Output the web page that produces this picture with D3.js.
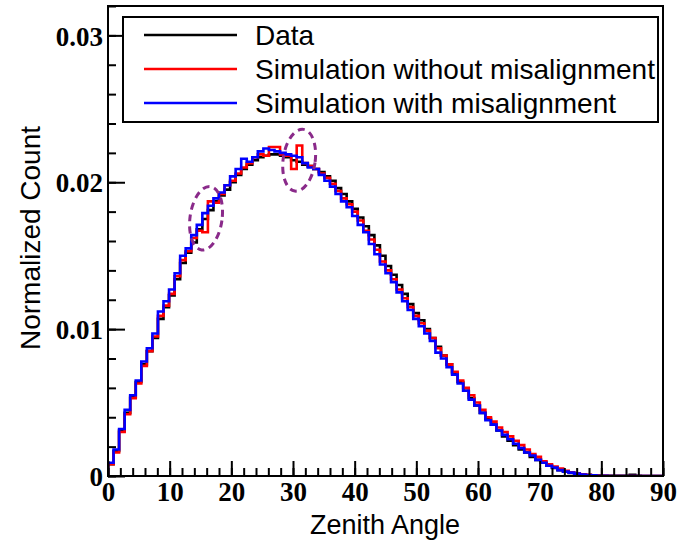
<!DOCTYPE html>
<html>
<head>
<meta charset="utf-8">
<script src="https://cdn.jsdelivr.net/npm/d3@7"></script>
<style>
  body { margin: 0; background: #fff; }
  svg { display: block; }
</style>
</head>
<body>
<div id="chart-area"></div>
<script>
// Histogram: 100 bins of 0.9 degree between 0 and 90.
var binWidth = 0.9;

var dataCounts = [0.0008,0.0017,0.0031,0.0043,0.0054,0.0064,0.0076,0.0085,0.0094,0.0107,
  0.0115,0.0123,0.0134,0.0145,0.0152,0.0159,0.0168,0.0175,0.0181,0.0187,
  0.0191,0.0195,0.0200,0.0205,0.0209,0.0212,0.0215,0.0217,0.0218,0.0219,
  0.0219,0.0218,0.0217,0.0215,0.0214,0.0212,0.0211,0.0209,0.0207,0.0204,
  0.0201,0.0196,0.0192,0.0187,0.0182,0.0176,0.0170,0.0164,0.0157,0.0150,
  0.0143,0.0137,0.0130,0.0124,0.0117,0.0111,0.0106,0.0100,0.0094,0.0088,
  0.0082,0.0076,0.0070,0.0064,0.0058,0.0053,0.0048,0.0043,0.0039,0.0035,
  0.0031,0.0027,0.0024,0.0021,0.0018,0.0016,0.0013,0.0011,0.0009,0.0007,
  0.00055,0.0004,0.0003,0.0002,0.00015,0.0001,0.00007,0.00005,0.00003,0.00002,
  0.00001,0.00001,0.00001,0.00001,0.00008,0.00001,0,0,0,0];

var simNoMisalign = [0.0008,0.0016,0.0030,0.0042,0.0053,0.0063,0.0075,0.0085,0.0095,0.0109,
  0.0116,0.0124,0.0136,0.0147,0.0153,0.0162,0.0167,0.0166,0.0187,0.0186,
  0.0192,0.0198,0.0201,0.0206,0.0210,0.0213,0.0217,0.0219,0.0218,0.0224,
  0.0224,0.0219,0.0218,0.0209,0.0225,0.0213,0.0211,0.0209,0.0206,0.0203,
  0.0199,0.0194,0.0189,0.0185,0.0180,0.0174,0.0167,0.0161,0.0154,0.0146,
  0.0140,0.0134,0.0127,0.0121,0.0115,0.0109,0.0104,0.0099,0.0094,0.0087,
  0.0082,0.0076,0.0071,0.0065,0.0060,0.0055,0.0050,0.0045,0.0040,0.0037,
  0.0033,0.0030,0.0027,0.0024,0.0021,0.0018,0.0015,0.0013,0.0010,0.0008,
  0.00065,0.0005,0.00035,0.00025,0.00018,0.00012,0.00008,0.00005,0.00003,0.00002,
  0,0,0,0,0,0,0,0,0,0];

var simMisalign = [0.0009,0.0018,0.0032,0.0045,0.0055,0.0065,0.0078,0.0087,0.0097,0.0112,
  0.0119,0.0127,0.0138,0.0150,0.0155,0.0164,0.0171,0.0179,0.0184,0.0189,
  0.0193,0.0198,0.0204,0.0209,0.0216,0.0214,0.0217,0.0221,0.0223,0.0222,
  0.0221,0.0220,0.0219,0.0218,0.0217,0.0213,0.0210,0.0209,0.0205,0.0201,
  0.0197,0.0192,0.0187,0.0183,0.0177,0.0171,0.0166,0.0158,0.0151,0.0144,
  0.0138,0.0132,0.0125,0.0119,0.0113,0.0107,0.0102,0.0097,0.0092,0.0084,
  0.0080,0.0074,0.0069,0.0063,0.0058,0.0052,0.0048,0.0043,0.0038,0.0035,
  0.0031,0.0028,0.0025,0.0022,0.0019,0.0016,0.0014,0.0011,0.0009,0.0007,
  0.00057,0.0004,0.0003,0.00023,0.00016,0.0001,0.00007,0.00004,0.00002,0.00001,
  0,0,0,0,0,0,0,0,0,0];

var seriesNames = ["Data", "Simulation without misalignment", "Simulation with misalignment"];
var seriesColors = ["#000000", "#ff0000", "#0000ff"];

var xMajorTicks = [0, 10, 20, 30, 40, 50, 60, 70, 80, 90];
var yMajorTicks = [0, 0.01, 0.02, 0.03];
var yTickLabels = ["0", "0.01", "0.02", "0.03"];

// dashed ellipses marking the differences: [angle, count, radius in deg, radius in count]
var highlights = [[15.9, 0.01755, 2.6, 0.00218], [31.0, 0.0215, 2.6, 0.00212]];

// Layout
var W = 677, H = 543;
var frame = {left: 108, right: 663, top: 6, bottom: 476};

var svg = d3.select("#chart-area").append("svg")
    .attr("width", W)
    .attr("height", H);

var x = d3.scaleLinear().domain([0, 90]).range([frame.left, frame.right]);
var y = d3.scaleLinear().domain([0, 0.032]).range([frame.bottom, frame.top]);

var tickFont = "'Liberation Serif', 'Times New Roman', serif";
var sansFont = "'Liberation Sans', Arial, Helvetica, sans-serif";

// clip to frame
svg.append("defs").append("clipPath").attr("id", "frame-clip")
  .append("rect")
    .attr("x", frame.left).attr("y", frame.top)
    .attr("width", frame.right - frame.left)
    .attr("height", frame.bottom - frame.top);

// Histogram step lines
var line = d3.line()
    .x(function(d) { return x(d[0]); })
    .y(function(d) { return y(d[1]); })
    .curve(d3.curveStepAfter);

function stepPoints(values) {
  var pts = [[0, 0]];
  values.forEach(function(v, i) { pts.push([i * binWidth, v]); });
  pts.push([values.length * binWidth, values[values.length - 1]]);
  return pts;
}

var plot = svg.append("g").attr("clip-path", "url(#frame-clip)");
[dataCounts, simNoMisalign, simMisalign].forEach(function(vals, k) {
  plot.append("path")
      .attr("d", line(stepPoints(vals)))
      .attr("fill", "none")
      .attr("stroke", seriesColors[k])
      .attr("stroke-width", 2.6)
      .attr("stroke-linejoin", "miter");
});

// Dashed ellipses
highlights.forEach(function(h) {
  var cx = x(h[0]), cy = y(h[1]);
  svg.append("ellipse")
      .attr("cx", cx).attr("cy", cy)
      .attr("rx", x(h[2]) - x(0))
      .attr("ry", y(0) - y(h[3]))
      .attr("transform", "rotate(8," + cx + "," + cy + ")")
      .attr("fill", "none")
      .attr("stroke", "#8a2a8a")
      .attr("stroke-width", 3)
      .attr("stroke-dasharray", "7,5");
});

// X axis (ticks point inward)
var xAxis = svg.append("g")
    .attr("transform", "translate(0," + frame.bottom + ")")
    .call(d3.axisBottom(x).tickValues(xMajorTicks).tickSize(-15).tickPadding(6)
      .tickFormat(d3.format("d")));
svg.append("g")
    .attr("transform", "translate(0," + frame.bottom + ")")
    .call(d3.axisBottom(x).tickValues(d3.range(0, 91, 2)).tickSize(-8).tickFormat(""));

// Y axis
var yAxis = svg.append("g")
    .attr("transform", "translate(" + frame.left + ",0)")
    .call(d3.axisLeft(y).tickValues(yMajorTicks).tickSize(-17).tickPadding(5)
      .tickFormat(function(d, i) { return yTickLabels[i]; }));
svg.append("g")
    .attr("transform", "translate(" + frame.left + ",0)")
    .call(d3.axisLeft(y).tickValues(d3.range(0, 0.0321, 0.002)).tickSize(-8).tickFormat(""));

svg.selectAll(".domain").remove();
svg.selectAll(".tick line").attr("stroke", "#000").attr("stroke-width", 2);
svg.selectAll(".tick text")
    .attr("fill", "#000")
    .style("font-family", tickFont)
    .style("font-weight", "bold")
    .style("font-size", "27px");
yAxis.selectAll(".tick text").attr("dy", "0.36em");
xAxis.selectAll(".tick text").attr("dy", "0.7em");

// Frame
svg.append("rect")
    .attr("x", frame.left).attr("y", frame.top)
    .attr("width", frame.right - frame.left)
    .attr("height", frame.bottom - frame.top)
    .attr("fill", "none")
    .attr("stroke", "#000")
    .attr("stroke-width", 2);

// Axis titles
svg.append("text")
    .attr("x", 385).attr("y", 534)
    .attr("text-anchor", "middle")
    .style("font-family", sansFont)
    .style("font-size", "27px")
    .text("Zenith Angle");

svg.append("text")
    .attr("transform", "translate(40,238) rotate(-90)")
    .attr("text-anchor", "middle")
    .style("font-family", sansFont)
    .style("font-size", "28px")
    .text("Normalized Count");

// Legend
var legend = svg.append("g");
legend.append("rect")
    .attr("x", 123).attr("y", 17)
    .attr("width", 535).attr("height", 105)
    .attr("fill", "#fff")
    .attr("stroke", "#000")
    .attr("stroke-width", 2);

seriesNames.forEach(function(name, i) {
  var ly = 35 + i * 34;
  legend.append("line")
      .attr("x1", 144).attr("x2", 237)
      .attr("y1", ly).attr("y2", ly)
      .attr("stroke", seriesColors[i])
      .attr("stroke-width", 2.6);
  legend.append("text")
      .attr("x", 255).attr("y", ly)
      .attr("dy", "0.35em")
      .style("font-family", sansFont)
      .style("font-size", "28px")
      .text(name);
});
</script>
</body>
</html>
